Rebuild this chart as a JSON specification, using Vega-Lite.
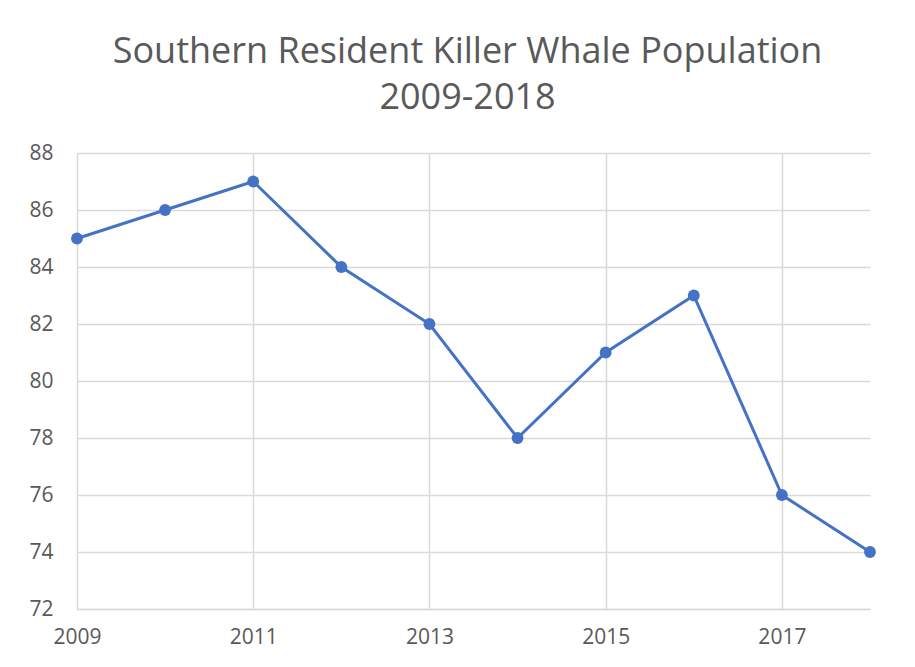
{
  "$schema": "https://vega.github.io/schema/vega-lite/v6.json",
  "width": 793,
  "height": 456,
  "autosize": {"type": "none"},
  "padding": {"left": 77, "top": 153, "right": 45, "bottom": 58},
  "background": "white",
  "title": {
    "text": ["Southern Resident Killer Whale Population", "2009-2018"],
    "fontSize": 36,
    "font": "Open Sans",
    "fontWeight": "normal",
    "color": "#595959",
    "lineHeight": 46,
    "offset": 25,
    "dx": -6,
    "anchor": "middle"
  },
  "data": {
    "values": [
      {"year": 2009, "population": 85},
      {"year": 2010, "population": 86},
      {"year": 2011, "population": 87},
      {"year": 2012, "population": 84},
      {"year": 2013, "population": 82},
      {"year": 2014, "population": 78},
      {"year": 2015, "population": 81},
      {"year": 2016, "population": 83},
      {"year": 2017, "population": 76},
      {"year": 2018, "population": 74}
    ]
  },
  "encoding": {
    "x": {
      "field": "year",
      "type": "quantitative",
      "scale": {"domain": [2009, 2018], "nice": false, "zero": false},
      "axis": {
        "title": null,
        "values": [2009, 2011, 2013, 2015, 2017],
        "format": "d",
        "ticks": false,
        "domainColor": "#d9d9d9",
        "domainWidth": 1.5,
        "gridColor": "#d9d9d9",
        "gridWidth": 1.5,
        "labelFont": "Open Sans",
        "labelFontSize": 21,
        "labelColor": "#595959",
        "labelPadding": 17,
        "labelFlush": false
      }
    },
    "y": {
      "field": "population",
      "type": "quantitative",
      "scale": {"domain": [72, 88], "nice": false, "zero": false},
      "axis": {
        "title": null,
        "values": [72, 74, 76, 78, 80, 82, 84, 86, 88],
        "ticks": false,
        "domain": false,
        "gridColor": "#d9d9d9",
        "gridWidth": 1.5,
        "labelFont": "Open Sans",
        "labelFontSize": 21,
        "labelColor": "#595959",
        "labelPadding": 24
      }
    }
  },
  "layer": [
    {"mark": {"type": "line", "color": "#4472C4", "strokeWidth": 3}},
    {"mark": {"type": "point", "filled": true, "color": "#4472C4", "size": 140, "opacity": 1}}
  ],
  "config": {"view": {"stroke": null}}
}
